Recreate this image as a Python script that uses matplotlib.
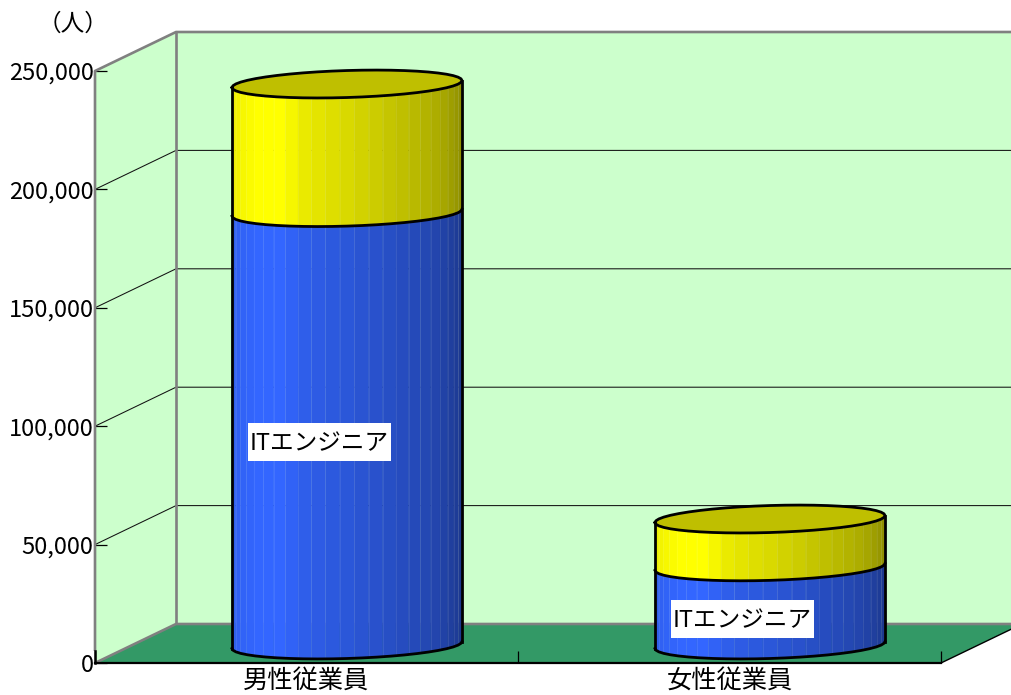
import numpy as np
import matplotlib
matplotlib.use('Agg')
import matplotlib.pyplot as plt

plt.rcParams['font.family'] = ['Noto Sans CJK JP', 'DejaVu Sans']

#chart values
categories = ['男性従業員', '女性従業員']
it_staff = [182600, 33000]
other_staff = [54300, 20200]
y_ticks = [0, 50000, 100000, 150000, 200000, 250000]
series_label = 'ITエンジニア'
unit_label = '（人）'

W, H = 1011, 695
fig = plt.figure(figsize=(W / 100, H / 100), dpi=100, facecolor='white')
ax = fig.add_axes([95 / W, (H - 663) / H, 846 / W, 592 / H])
ax.set_xlim(0, 2)
ax.set_ylim(0, 250000)
ax.patch.set_visible(False)

# pixel sizes turned into data units
px_x = 2 / 846
px_y = 250000 / 592
depth_x = 81 * px_x
depth_y = 39 * px_y
GRAY = '#808080'

# back wall, side wall, floor
ax.fill([depth_x, 2 + depth_x, 2 + depth_x, depth_x],
        [depth_y, depth_y, 250000 + depth_y, 250000 + depth_y],
        color='#ccffcc', lw=0, clip_on=False, zorder=1)
ax.fill([0, depth_x, depth_x, 0], [0, depth_y, 250000 + depth_y, 250000],
        color='#ccffcc', lw=0, clip_on=False, zorder=1)
ax.fill([0, 2, 2 + depth_x, depth_x], [0, 0, depth_y, depth_y],
        color='#339966', lw=0, clip_on=False, zorder=1)

# grid lines
for v in y_ticks[1:-1]:
    ax.plot([0, depth_x, 2 + depth_x], [v, v + depth_y, v + depth_y],
            color='#111111', lw=0.75, clip_on=False, zorder=2)

# wall edges
edge = dict(color=GRAY, lw=1.9, clip_on=False, zorder=3, solid_capstyle='butt')
ax.plot([0, 0, depth_x, 2 + depth_x], [12 * px_y, 250000, 250000 + depth_y, 250000 + depth_y], **edge)
ax.plot([depth_x, depth_x], [depth_y, 250000 + depth_y], **edge)
ax.plot([0, depth_x, 2 + depth_x], [0, depth_y, depth_y], **edge)
ax.plot([2, 2 + depth_x], [0, depth_y], color='black', lw=1.0, clip_on=False, zorder=3)

# axis
for s in ['top', 'right']:
    ax.spines[s].set_visible(False)
ax.spines['left'].set_bounds(0, 12 * px_y)
ax.spines['left'].set_linewidth(1.8)
ax.spines['bottom'].set_linewidth(1.6)
for s in ['left', 'bottom']:
    ax.spines[s].set_zorder(4)
ax.set_yticks(y_ticks)
ax.set_yticklabels([f'{v:,}' for v in y_ticks], fontsize=17, color='black')
ax.tick_params(axis='y', direction='in', length=8.5, width=0.9, pad=1)
ax.set_xticks([0.5, 1.5])
ax.set_xticklabels(categories, fontsize=18.2, color='black')
ax.set_xticks([0, 1, 2], minor=True)
ax.tick_params(axis='x', which='major', length=0, pad=3.5)
ax.tick_params(axis='x', which='minor', direction='in', length=8.5, width=0.9)
fig.text(73 / W, 1 - 24 / H, unit_label, fontsize=17, color='black', ha='center', va='center')

# cylinder shape
half_w = 115 * px_x
rim_h = 13.5 * px_y
tilt = 3.5 * px_y
base_x = 40.5 * px_x
base_y = 18 * px_y
facets = np.radians(np.arange(0, 180.1, 7.2))
shade_deg = [0, 26, 40, 55, 70, 90, 115, 140, 160, 180]
shade_val = [0.91, 0.97, 1.0, 1.0, 0.91, 0.85, 0.76, 0.68, 0.60, 0.52]


def rim(theta, cx, v):
    x = cx - half_w * np.cos(theta)
    y = v + base_y - tilt * np.cos(theta) - rim_h * np.sin(theta)
    return x, y


def draw_wall(cx, low, high, colour):
    for a, b in zip(facets[:-1], facets[1:]):
        t = np.linspace(a, b, 3)
        x1, y1 = rim(t, cx, low)
        x2, y2 = rim(t, cx, high)
        k = np.interp(np.degrees((a + b) / 2), shade_deg, shade_val)
        ax.fill(np.r_[x1, x2[::-1]], np.r_[y1, y2[::-1]], color=np.array(colour) * k,
                lw=0.3, clip_on=False, zorder=5)
        # thin light seam between the facets
        ax.plot([x1[-1], x2[-1]], [y1[-1], y2[-1]], color='white', alpha=0.09, lw=0.7,
                clip_on=False, zorder=5.5)


def outline(x, y):
    ax.plot(x, y, color='black', lw=2.0, clip_on=False, zorder=6, solid_joinstyle='round')


BLUE = (0.2, 0.4, 1.0)
YELLOW = (1.0, 1.0, 0.0)
front = np.linspace(0, np.pi, 25)
whole = np.linspace(0, 2 * np.pi, 49)

for i, name in enumerate(categories):
    cx = i + 0.5 + base_x
    mid = it_staff[i]
    top = it_staff[i] + other_staff[i]
    draw_wall(cx, 0, mid, BLUE)
    draw_wall(cx, mid, top, YELLOW)
    xt, yt = rim(whole, cx, top)
    ax.fill(xt, yt, color='#bfbf00', lw=0, clip_on=False, zorder=5)
    outline(xt, yt)
    outline(*rim(front, cx, mid))
    outline(*rim(front, cx, 0))
    for side in [0, np.pi]:
        x0, y0 = rim(side, cx, 0)
        x1, y1 = rim(side, cx, top)
        outline([x0, x1], [y0, y1])
    # label with its white box
    lx = cx - 27.5 * px_x
    ly = mid / 2 + base_y - 13 * px_y
    bw, bh = 71.5 * px_x, 19 * px_y
    ax.fill([lx - bw, lx + bw, lx + bw, lx - bw], [ly - bh, ly - bh, ly + bh, ly + bh],
            color='white', lw=0, clip_on=False, zorder=7)
    ax.text(lx, ly - 2 * px_y, series_label, fontsize=17, color='black',
            ha='center', va='center', clip_on=False, zorder=8)

fig.savefig('out.png', dpi=100)
